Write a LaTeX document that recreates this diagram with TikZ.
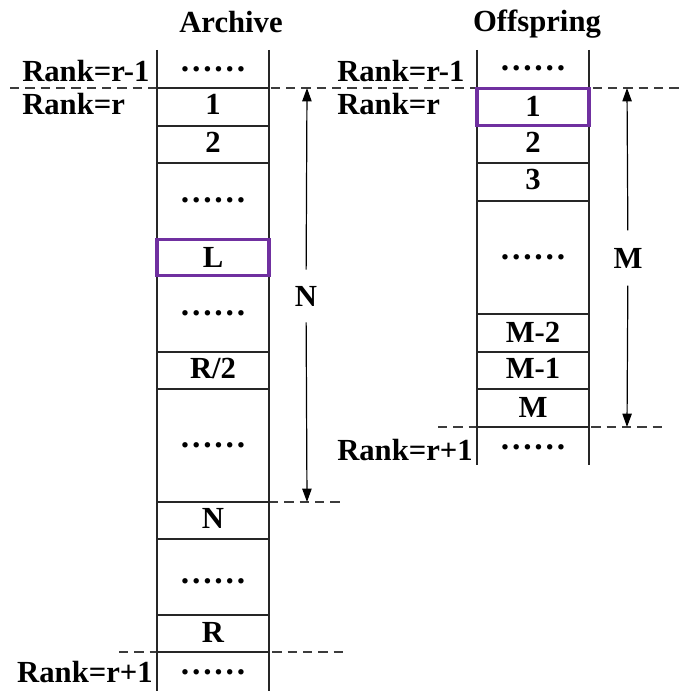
\documentclass[tikz,border=0pt]{standalone}
\usepackage{fontspec}
\setmainfont{Liberation Serif}
\usetikzlibrary{arrows.meta}
\definecolor{selpurple}{RGB}{112,48,160}
\definecolor{rankgray}{RGB}{60,60,60}

\begin{document}
\begin{tikzpicture}[x=0.75pt,y=-0.75pt,
  every node/.style={font=\fontsize{23}{26}\selectfont\bfseries, inner sep=0pt},
  celltxt/.style={text height=15pt, text depth=0pt},
  dotsrow/.style={font=\fontsize{25}{28}\selectfont\bfseries},
  colline/.style={line width=1.3pt, black!85},
  sepline/.style={line width=1.1pt, black!85},
  rankline/.style={line width=1.1pt, rankgray, dash pattern=on 7pt off 4.5pt},
  sel/.style={draw=selpurple, line width=2.3pt, minimum width=84pt, minimum height=27.5pt, celltxt},
  span/.style={line width=0.9pt, -{Triangle[length=10pt,width=7pt]}},
  spanlbl/.style={celltxt, minimum width=12pt},
]
\useasboundingbox (0,0) rectangle (682,691);

% rank boundaries (dashed)
\draw[rankline] (10,88) -- (682,88);
\draw[rankline] (269,502) -- (343,502);
\draw[rankline] (119,652) -- (343,652);
\draw[rankline] (438,427) -- (662,427);

% ---------- Archive column ----------
\node[anchor=base] (tArch) at (231,33) {Archive};
\draw[colline] (157,50) -- (157,691);
\draw[colline] (269,50) -- (269,691);
\foreach \y in {88,126,163,352,389,502,539,615,652}
  \draw[sepline] (157,\y) -- (269,\y);

\node[dotsrow] (a0) at (213,69) {……};
\node[celltxt] (a1) at (213,105) {1};
\node[celltxt] (a2) at (213,143) {2};
\node[dotsrow] (a3) at (213,200) {……};
\node[sel] (aL) at (213,257.5) {L};
\node[dotsrow] (a5) at (213,313) {……};
\node[celltxt] (aR2) at (213,368) {R/2};
\node[dotsrow] (a7) at (213,445) {……};
\node[celltxt] (aN) at (213,518) {N};
\node[dotsrow] (a9) at (213,581) {……};
\node[celltxt] (aR) at (213,632) {R};
\node[dotsrow] (a11) at (213,672) {……};

\node[anchor=base west] (rA1) at (22,82) {Rank=r-1};
\node[anchor=base west] (rA2) at (22,115) {Rank=r};
\node[anchor=base east] (rA3) at (153,682) {Rank=r+1};

% span N
\coordinate (Ntop) at (307,88);
\coordinate (Nbot) at (307,502);
\node[spanlbl, minimum height=39pt] (Nlab) at (306,296) {N};
\draw[span] (Nlab) -- (Ntop);
\draw[span] (Nlab) -- (Nbot);

% ---------- Offspring column ----------
\node[anchor=base] (tOff) at (537,32) {Offspring};
\draw[colline] (477,50) -- (477,465);
\draw[colline] (589,50) -- (589,465);
\foreach \y in {126,163,201,314,352,389,427}
  \draw[sepline] (477,\y) -- (589,\y);

\node[dotsrow] (o0) at (533,68) {……};
\node[sel] (o1) at (533,107) {1};
\node[celltxt] (o2) at (533,143) {2};
\node[celltxt] (o3) at (533,180) {3};
\node[dotsrow] (o4) at (533,257) {……};
\node[celltxt] (oM2) at (533,332) {M-2};
\node[celltxt] (oM1) at (533,368) {M-1};
\node[celltxt] (oM) at (533,407) {M};
\node[dotsrow] (o8) at (533,447) {……};

\node[anchor=base west] (rO1) at (337,82) {Rank=r-1};
\node[anchor=base west] (rO2) at (337,115) {Rank=r};
\node[anchor=base east] (rO3) at (473,460) {Rank=r+1};

% span M
\coordinate (Mtop) at (627,88);
\coordinate (Mbot) at (627,427);
\node[spanlbl, minimum height=41pt] (Mlab) at (628,258) {M};
\draw[span] (Mlab) -- (Mtop);
\draw[span] (Mlab) -- (Mbot);
\end{tikzpicture}
\end{document}
